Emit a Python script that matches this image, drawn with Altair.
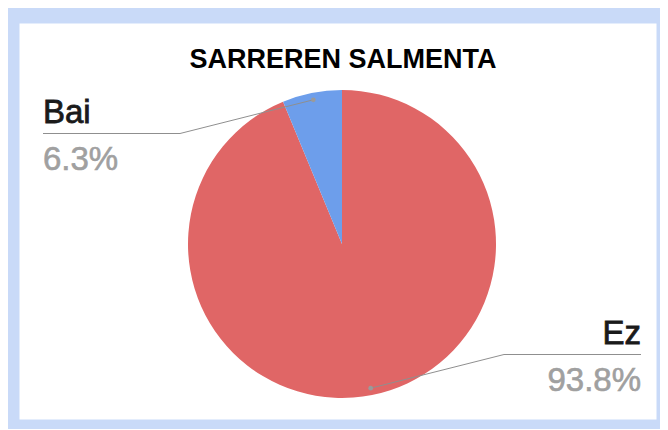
import math
import altair as alt
import pandas as pd

# ---- data ----
labels = ["Ez", "Bai"]
values = [93.75, 6.25]
colors = ["#e06666", "#6d9eeb"]
title_text = "SARREREN SALMENTA"

# ---- layout ----
W, H = 637, 396
CX, CY, R = 323, 221, 154
DOT_R = 147

total = sum(values)
rows, lines = [], []
start = 0.0
for i, (lab, v) in enumerate(zip(labels, values)):
    mid = (start + v / 2) / total * 2 * math.pi
    start += v
    side = 1 if math.sin(mid) >= 0 else -1
    dx = CX + DOT_R * math.sin(mid)
    dy = CY - DOT_R * math.cos(mid)
    ex = CX + side * 162
    ey = CY + side * 110.5
    endx = 622 if side > 0 else 24
    rows.append(dict(label=lab, value=v, order=i, pct=v / total, side=side,
                     dotx=dx, doty=dy, tx=endx, ny=ey - 11, py=ey + 36))
    lines += [dict(label=lab, k=0, x=dx, y=dy),
              dict(label=lab, k=1, x=ex, y=ey),
              dict(label=lab, k=2, x=endx, y=ey)]

df = pd.DataFrame(rows)
ldf = pd.DataFrame(lines)

pie = alt.Chart(df).mark_arc(outerRadius=R).encode(
    theta=alt.Theta("value:Q", stack=True),
    color=alt.Color("label:N", scale=alt.Scale(domain=labels, range=colors), legend=None),
    order=alt.Order("order:Q"),
    x=alt.value(CX),
    y=alt.value(CY),
)

leader = alt.Chart(ldf).mark_line(color="#8f8f8f", strokeWidth=1).encode(
    x=alt.X("x:Q", scale=None, axis=None),
    y=alt.Y("y:Q", scale=None, axis=None),
    detail="label:N",
    order="k:Q",
)

dots = alt.Chart(df).mark_circle(color="#9a9a9a", opacity=1, size=22).encode(
    x=alt.X("dotx:Q", scale=None, axis=None),
    y=alt.Y("doty:Q", scale=None, axis=None),
)

def side_texts(side, align):
    base = alt.Chart(df).transform_filter(alt.datum.side == side)
    name = base.mark_text(font="Liberation Sans", fontSize=33, color="#1a1a1a",
                          stroke="#1a1a1a", strokeWidth=0.8,
                          align=align, baseline="alphabetic").encode(
        x=alt.X("tx:Q", scale=None, axis=None),
        y=alt.Y("ny:Q", scale=None, axis=None),
        text="label:N",
    )
    pct = base.mark_text(font="Liberation Sans", fontSize=33, color="#a0a0a0",
                         stroke="#a0a0a0", strokeWidth=0.6,
                         align=align, baseline="alphabetic").encode(
        x=alt.X("tx:Q", scale=None, axis=None),
        y=alt.Y("py:Q", scale=None, axis=None),
        text=alt.Text("pct:Q", format=".1%"),
    )
    return name + pct

title = alt.Chart(alt.Data(values=[{"t": title_text}])).mark_text(
    font="Liberation Sans", fontSize=27, fontWeight="bold", color="#000000",
    align="center", baseline="alphabetic",
).encode(x=alt.value(324), y=alt.value(45), text="t:N")

chart = alt.layer(
    pie, leader, dots, side_texts(-1, "left"), side_texts(1, "right"), title
).properties(
    width=W, height=H,
    padding={"left": 11, "top": 15, "right": 4, "bottom": 10},
    background="#c9daf8",
).configure_view(fill="white", stroke="transparent")

chart.save("out.html", embed_options={"renderer": "svg", "actions": False})
